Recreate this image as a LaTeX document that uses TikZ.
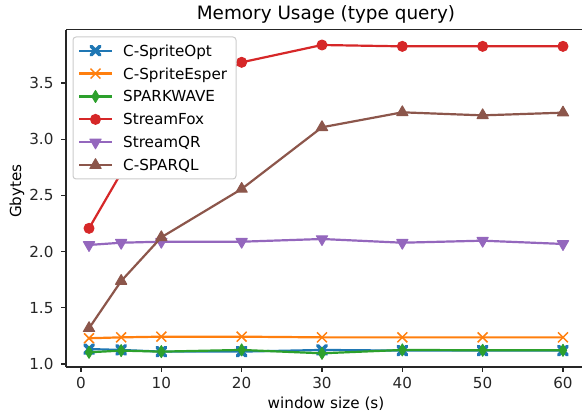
\documentclass[tikz,border=0pt]{standalone}
\usepackage{fontspec}
\setmainfont{DejaVu Sans}
\usepackage{tikz}
\usetikzlibrary{plotmarks}
\definecolor{tabblue}{HTML}{1F77B4}
\definecolor{taborange}{HTML}{FF7F0E}
\definecolor{tabgreen}{HTML}{2CA02C}
\definecolor{tabred}{HTML}{D62728}
\definecolor{tabpurple}{HTML}{9467BD}
\definecolor{tabbrown}{HTML}{8C564B}
\tikzstyle{spine} = [line width=1.1, black!85]
\tikzstyle{tick} = [line width=1.1, black!85]
\tikzstyle{ticklabel} = [inner sep=0, font=\fontsize{15.2}{18}\selectfont]
\tikzstyle{legendtext} = [ticklabel, anchor=base west, yshift=-5.5pt]
\tikzstyle{legendbox} = [draw=black!20, fill=white, line width=1, rounded corners=3pt]
\tikzstyle{series} = [line width=2.2, line join=round]
\tikzstyle{spriteopt} = [series, tabblue, mark=x, mark size=6, mark options={line width=3.6, line cap=round}]
\tikzstyle{spriteesper} = [series, taborange, mark=x, mark size=7, mark options={line width=1.5}]
\tikzstyle{sparkwave} = [series, tabgreen, mark=diamond*, mark size=6, mark options={line width=1, xscale=0.8}]
\tikzstyle{streamfox} = [series, tabred, mark=*, mark size=5, mark options={line width=1}]
\tikzstyle{streamqr} = [series, tabpurple, mark=triangle*, mark size=6.5, mark options={line width=1, rotate=180}]
\tikzstyle{csparql} = [series, tabbrown, mark=triangle*, mark size=6.5, mark options={line width=1}]

\begin{document}
\begin{tikzpicture}[x=1pt, y=1pt]
    \useasboundingbox (0,0) rectangle (582,419);
    \begin{scope}[shift={(81,-57.4)}, x=8.033pt, y=112.4pt]
        % axes frame (right side cut off)
        \draw[spine] (-1.87,0.973) -- (62.4,0.973);
        \draw[spine] (-1.87,3.972) -- (62.4,3.972);
        \draw[spine] (-1.87,0.973) -- (-1.87,3.972);
        \foreach \xt in {0,10,...,60}
            \draw[tick] (\xt,0.973) -- ++(0,-5pt) node[ticklabel, anchor=north, yshift=-5pt] (xt\xt) {\xt};
        \foreach \yt [count=\i] in {1.0,1.5,2.0,2.5,3.0,3.5}
            \draw[tick] (-1.87,\yt) -- ++(-5pt,0) node[ticklabel, anchor=base east, xshift=-7pt, yshift=-5.5pt] (yt\i) {\yt};
        % data
        \draw[spriteopt] plot coordinates {(1,1.133) (5,1.125) (10,1.11) (20,1.11) (30,1.125) (40,1.119) (50,1.119) (60,1.119)};
        \draw[spriteesper] plot coordinates {(1,1.229) (5,1.237) (10,1.243) (20,1.243) (30,1.237) (40,1.237) (50,1.237) (60,1.237)};
        \draw[sparkwave] plot coordinates {(1,1.104) (5,1.119) (10,1.11) (20,1.125) (30,1.095) (40,1.125) (50,1.122) (60,1.122)};
        \draw[streamfox] plot coordinates {(1,2.207) (5,2.70) (10,3.30) (20,3.684) (30,3.838) (40,3.826) (50,3.826) (60,3.826)};
        \draw[streamqr] plot coordinates {(1,2.059) (5,2.079) (10,2.088) (20,2.088) (30,2.112) (40,2.079) (50,2.097) (60,2.068)};
        \draw[csparql] plot coordinates {(1,1.318) (5,1.738) (10,2.127) (20,2.557) (30,3.106) (40,3.239) (50,3.212) (60,3.236)};
    \end{scope}
    \node[font=\fontsize{18.4}{22}\selectfont, anchor=base] (title) at (326,399) {Memory Usage (type query)};
    \node[ticklabel, anchor=base] (xlabel) at (326,10) {window size (s)};
    \node[ticklabel, rotate=90] (ylabel) at (17,228) {Gbytes};
    % legend
    \draw[legendbox] (73,240) rectangle (236,382);
    \draw[spriteopt, mark indices={2}] plot coordinates {(79,368.3) (95.5,368.3) (112,368.3)};
    \node[legendtext] (lgopt) at (123,368.3) {C-SpriteOpt};
    \draw[spriteesper, mark indices={2}] plot coordinates {(79,345.4) (95.5,345.4) (112,345.4)};
    \node[legendtext] (lgesper) at (123,345.4) {C-SpriteEsper};
    \draw[sparkwave, mark indices={2}] plot coordinates {(79,322.5) (95.5,322.5) (112,322.5)};
    \node[legendtext] (lgspark) at (123,322.5) {SPARKWAVE};
    \draw[streamfox, mark indices={2}] plot coordinates {(79,299.6) (95.5,299.6) (112,299.6)};
    \node[legendtext] (lgfox) at (123,299.6) {StreamFox};
    \draw[streamqr, mark indices={2}] plot coordinates {(79,276.7) (95.5,276.7) (112,276.7)};
    \node[legendtext] (lgqr) at (123,276.7) {StreamQR};
    \draw[csparql, mark indices={2}] plot coordinates {(79,253.8) (95.5,253.8) (112,253.8)};
    \node[legendtext] (lgsparql) at (123,253.8) {C-SPARQL};
\end{tikzpicture}
\end{document}
